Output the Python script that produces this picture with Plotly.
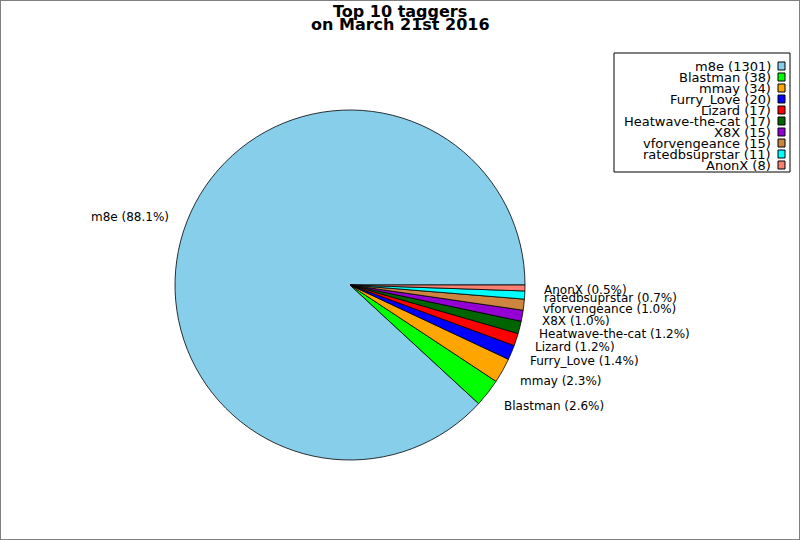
import math
import plotly.graph_objects as go

names = ["m8e", "Blastman", "mmay", "Furry_Love", "Lizard", "Heatwave-the-cat",
         "X8X", "vforvengeance", "ratedbsuprstar", "AnonX"]
counts = [1301, 38, 34, 20, 17, 17, 15, 15, 11, 8]
colors = ["#87CEEB", "#00FF00", "#FFA500", "#0000FF", "#FF0000", "#006400",
          "#9400D3", "#CD853F", "#00FFFF", "#FA8072"]
title_lines = ["Top 10 taggers", "on March 21st 2016"]

W, H = 800, 540
cx, cy, r = 350, 255, 175   # pie centre (from bottom) and radius in px
font = "DejaVu Sans"
total = sum(counts)

# plotly draws the first ccw slice ending at the rotation angle, so shift it
# so m8e starts at 3 o'clock like matplotlib's startangle=0
rot = 90 - 360 * counts[0] / total

fig = go.Figure(go.Pie(
    labels=names, values=counts, sort=False,
    direction="counterclockwise", rotation=rot,
    marker=dict(colors=colors, line=dict(color="black", width=0.8)),
    textinfo="none", hoverinfo="label+value+percent", showlegend=False,
    domain=dict(x=[(cx - r) / W, (cx + r) / W], y=[(cy - r) / H, (cy + r) / H]),
))

# slice labels, matplotlib style at 1.1 radius
start = 0.0
annotations = []
for name, c in zip(names, counts):
    frac = c / total
    mid = (start + frac / 2) * 2 * math.pi
    start += frac
    x = cx + 1.1 * r * math.cos(mid)
    y = cy + 1.1 * r * math.sin(mid) - 2
    annotations.append(dict(
        x=x / W, y=y / H, xref="paper", yref="paper", showarrow=False,
        text=f"{name} ({frac * 100:.1f}%)",
        xanchor="left" if x >= cx else "right", yanchor="middle",
        font=dict(family=font, size=12, color="black")))

# title
for i, line in enumerate(title_lines):
    annotations.append(dict(
        x=0.5, y=1 - (11 + 14 * i) / H, xref="paper", yref="paper", showarrow=False,
        text=f"<b>{line}</b>", xanchor="center", yanchor="middle",
        font=dict(family=font, size=16, color="black")))

# legend box, symbols on the right like matplotlib
shapes = [dict(type="rect", xref="paper", yref="paper", x0=0, y0=0, x1=1, y1=1,
               line=dict(color="#808080", width=2)),
          dict(type="rect", xref="paper", yref="paper",
               x0=614 / W, x1=790 / W, y0=1 - 172 / H, y1=1 - 53 / H,
               line=dict(color="black", width=1), fillcolor="white")]
for i, (name, c, col) in enumerate(zip(names, counts, colors)):
    ty = 66 + 11 * i
    annotations.append(dict(
        x=773 / W, y=1 - ty / H, xref="paper", yref="paper", showarrow=False,
        text=f"{name} ({c})", xanchor="right", yanchor="middle",
        font=dict(family=font, size=13, color="black")))
    shapes.append(dict(type="rect", xref="paper", yref="paper",
                       x0=778 / W, x1=785 / W, y0=1 - (ty + 4) / H, y1=1 - (ty - 4) / H,
                       fillcolor=col, line=dict(color="black", width=1)))

fig.update_layout(
    width=W, height=H, margin=dict(l=0, r=0, t=0, b=0),
    paper_bgcolor="white", plot_bgcolor="white",
    annotations=annotations, shapes=shapes,
)
fig.write_html("out.html", config={"displayModeBar": False},
               post_script="document.body.style.margin='0';")
